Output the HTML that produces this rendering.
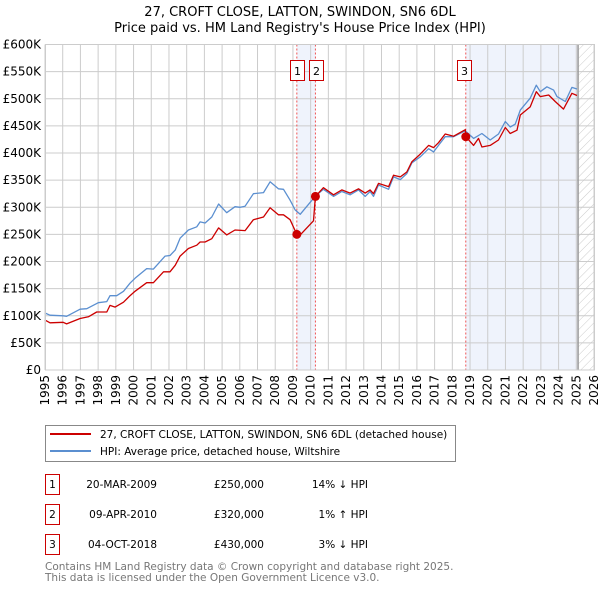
<!DOCTYPE html>
<html><head><meta charset="utf-8"><style>
body{margin:0;background:#fff;font-family:"DejaVu Sans","Liberation Sans",sans-serif;}
svg{display:block}
</style></head><body>
<svg width="600" height="590" viewBox="0 0 600 590" font-family="DejaVu Sans, Liberation Sans, sans-serif">
<defs>
<pattern id="hatch" width="6" height="6" patternUnits="userSpaceOnUse" patternTransform="rotate(45)">
<line x1="0" y1="0" x2="0" y2="6" stroke="#ccc" stroke-width="1"/>
</pattern>
</defs>
<text x="300" y="16" text-anchor="middle" font-size="13" fill="#000">27, CROFT CLOSE, LATTON, SWINDON, SN6 6DL</text>
<text x="300" y="32" text-anchor="middle" font-size="13" fill="#000">Price paid vs. HM Land Registry's House Price Index (HPI)</text>
<g id="plot"></g>
<g id="legend">
<rect x="45.5" y="425.5" width="410" height="36" fill="#fff" stroke="#888"/>
<line x1="50" y1="434" x2="91" y2="434" stroke="#cc0000" stroke-width="2"/>
<text x="100" y="438" font-size="10.5">27, CROFT CLOSE, LATTON, SWINDON, SN6 6DL (detached house)</text>
<line x1="50" y1="451" x2="91" y2="451" stroke="#5b8fd0" stroke-width="2"/>
<text x="100" y="455" font-size="10.5">HPI: Average price, detached house, Wiltshire</text>
</g>
<g id="table" font-size="10.5"></g>
<text x="45" y="570" font-size="10.5" fill="#777">Contains HM Land Registry data © Crown copyright and database right 2025.</text>
<text x="45" y="581" font-size="10.5" fill="#777">This data is licensed under the Open Government Licence v3.0.</text>
</svg>
<script>
const hpiYears=[1995.0,1995.28,1996.03,1996.22,1996.98,1997.36,1998.01,1998.49,1998.67,1999.05,1999.43,1999.80,2000.08,2000.74,2001.12,2001.78,2002.06,2002.35,2002.63,2003.10,2003.57,2003.76,2004.04,2004.42,2004.80,2005.26,2005.73,2006.02,2006.30,2006.77,2007.34,2007.71,2008.18,2008.47,2008.84,2009.13,2009.41,2010.25,2010.72,2011.29,2011.76,2012.23,2012.70,2013.08,2013.36,2013.55,2013.83,2014.40,2014.68,2015.06,2015.43,2015.72,2016.19,2016.66,2016.94,2017.22,2017.60,2018.07,2018.73,2019.20,2019.67,2020.14,2020.61,2020.99,2021.27,2021.55,2021.84,2022.40,2022.74,2022.97,2023.34,2023.72,2023.91,2024.38,2024.75,2025.04];
const hpiValues=[105,101,100,99,112,113,124,126,137,137,145,160,169,187,186,210,211,221,243,258,264,273,271,282,306,290,301,300,302,325,327,347,334,333,313,295,287,320,333,320,329,323,332,320,329,320,341,333,356,351,362,382,393,408,402,414,430,430,441,427,436,424,435,458,448,453,479,501,525,513,522,516,504,495,521,518];
const ppYears=[1995.0,1995.28,1996.03,1996.22,1996.98,1997.45,1997.92,1998.49,1998.67,1998.96,1999.43,1999.80,2000.08,2000.74,2001.12,2001.69,2002.06,2002.35,2002.63,2003.10,2003.57,2003.76,2004.04,2004.42,2004.80,2005.26,2005.73,2006.30,2006.77,2007.34,2007.71,2008.18,2008.47,2008.84,2009.22,2009.41,2010.16,2010.27,2010.72,2011.29,2011.76,2012.23,2012.70,2013.08,2013.36,2013.55,2013.83,2014.40,2014.68,2015.06,2015.43,2015.72,2016.19,2016.66,2016.94,2017.22,2017.60,2018.07,2018.73,2018.76,2019.20,2019.48,2019.67,2020.14,2020.61,2020.99,2021.27,2021.65,2021.84,2022.40,2022.74,2022.97,2023.44,2023.81,2024.28,2024.75,2025.04];
const ppValues=[92,87,88,85,95,98,107,107,119,116,125,137,145,161,161,181,181,193,210,224,230,236,236,242,262,249,258,257,277,282,299,286,286,277,250,249,275,320,336,323,332,326,334,326,332,325,344,338,359,356,365,384,398,414,410,419,435,431,443,430,414,427,411,414,424,447,436,442,470,485,513,504,507,495,481,510,506];
const saleLabels=["1","2","3"];
const saleYears=[2009.22,2010.27,2018.76];
const saleValues=[250,320,430];
const saleDates=["20-MAR-2009","09-APR-2010","04-OCT-2018"];
const salePrices=["£250,000","£320,000","£430,000"];
const saleDiffs=["14% \u2193 HPI","1% \u2191 HPI","3% \u2193 HPI"];
const yTicks=[0,50,100,150,200,250,300,350,400,450,500,550,600];
const yTickLabels=["£0","£50K","£100K","£150K","£200K","£250K","£300K","£350K","£400K","£450K","£500K","£550K","£600K"];
const xTicks=[1995,1996,1997,1998,1999,2000,2001,2002,2003,2004,2005,2006,2007,2008,2009,2010,2011,2012,2013,2014,2015,2016,2017,2018,2019,2020,2021,2022,2023,2024,2025,2026];
const dataEnd=2025.1;

const NS="http://www.w3.org/2000/svg";
const X0=45,X1=594,Y0=370,Y1=44.5;
const xs=y=>X0+(y-1995)/(2026-1995)*(X1-X0);
const ys=v=>Y0-v/600*(Y0-Y1);
const plot=document.getElementById('plot');
function mk(tag,attrs,parent){const e=document.createElementNS(NS,tag);for(const k in attrs)e.setAttribute(k,attrs[k]);(parent||plot).appendChild(e);return e;}

let e;
e=mk('rect',{x:xs(saleYears[0]),y:Y1,width:xs(saleYears[1])-xs(saleYears[0]),height:Y0-Y1,fill:'#eff3fc'});


e=mk('rect',{x:xs(saleYears[2]),y:Y1,width:xs(dataEnd)-xs(saleYears[2]),height:Y0-Y1,fill:'#eff3fc'});


e=mk('rect',{x:xs(dataEnd),y:Y1,width:X1-xs(dataEnd),height:Y0-Y1,fill:'url(#hatch)'});


yTicks.forEach((t,i)=>{
  e=mk('line',{x1:X0,x2:X1,y1:ys(t),y2:ys(t),stroke:'#ccc','stroke-width':1});
  
  
  e=mk('text',{x:X0-4,y:ys(t)+4,'text-anchor':'end','font-size':12,fill:'#000'});
  e.textContent=yTickLabels[i];
  
  
});
xTicks.forEach(t=>{
  e=mk('line',{x1:xs(t),x2:xs(t),y1:Y1,y2:Y0,stroke:'#ccc','stroke-width':1});
  
  
  e=mk('text',{x:0,y:0,'text-anchor':'end','font-size':12,fill:'#000',transform:`translate(${xs(t)+4},${Y0+5}) rotate(-90)`});
  e.textContent=t;
  
  
});
e=mk('line',{x1:xs(dataEnd),x2:xs(dataEnd),y1:Y1,y2:Y0,stroke:'#999','stroke-width':1.5});


saleYears.forEach((y,i)=>{
  e=mk('line',{x1:xs(y),x2:xs(y),y1:Y1,y2:Y0,stroke:'#ee5555','stroke-width':1,'stroke-dasharray':'2,2'});
  
  
});
function path(xa,va,col,name){
  const d=xa.map((y,i)=>(i?'L':'M')+xs(y).toFixed(1)+','+ys(va[i]).toFixed(1)).join('');
  e=mk('path',{d:d,fill:'none',stroke:col,'stroke-width':1.3,'stroke-linejoin':'round'});
  
  
}
path(hpiYears,hpiValues,'#5b8fd0','hpi-line');
path(ppYears,ppValues,'#cc0000','price-paid-line');
saleYears.forEach((y,i)=>{
  e=mk('circle',{cx:xs(y),cy:ys(saleValues[i]),r:4.5,fill:'#cc0000'});
  
  
  const g=mk('g',{});
  
  
  const lx=i===2?xs(y)-9:xs(y)-6.5;
  mk('rect',{x:Math.round(lx)+0.5,y:60.5,width:14,height:20,fill:'#fff',stroke:'#cc0000'},g);
  const t=mk('text',{x:Math.round(lx)+7.5,y:75,'text-anchor':'middle','font-size':11},g);
  t.textContent=saleLabels[i];
});
e=mk('rect',{x:X0+0.5,y:Y1,width:X1-X0,height:Y0-Y1,fill:'none',stroke:'#ccc'});



const tbl=document.getElementById('table');
saleLabels.forEach((l,i)=>{
  const yy=483+i*30;
  const g=mk('g',{},tbl);
  
  
  mk('rect',{x:45.5,y:yy-8.5,width:14,height:20,fill:'#fff',stroke:'#cc0000'},g);
  let t=mk('text',{x:52.5,y:yy+5,'text-anchor':'middle'},g);t.textContent=l;
  t=mk('text',{x:157,y:yy+5,'text-anchor':'end'},g);t.textContent=saleDates[i];
  t=mk('text',{x:264,y:yy+5,'text-anchor':'end'},g);t.textContent=salePrices[i];
  t=mk('text',{x:368,y:yy+5,'text-anchor':'end'},g);t.textContent=saleDiffs[i];
});
</script>
</body></html>
